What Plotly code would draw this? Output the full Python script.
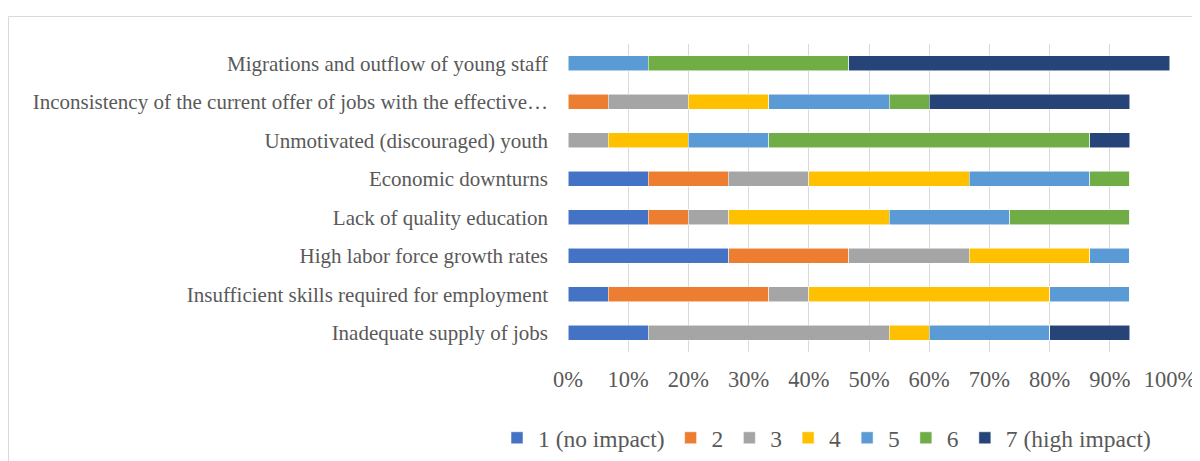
import plotly.graph_objects as go

categories = [
    "Inadequate supply of jobs",
    "Insufficient skills required for employment",
    "High labor force growth rates",
    "Lack of quality education",
    "Economic downturns",
    "Unmotivated (discouraged) youth",
    "Inconsistency of the current offer of jobs with the effective…",
    "Migrations and outflow of young staff",
]

series_names = ["1 (no impact)", "2", "3", "4", "5", "6", "7 (high impact)"]
colors = ["#4472C4", "#ED7D31", "#A5A5A5", "#FFC000", "#5B9BD5", "#70AD47", "#264478"]

# shares (%) per category, same order as categories
s1 = [13.33, 6.67, 26.67, 13.33, 13.33, 0.0, 0.0, 0.0]
s2 = [0.0, 26.67, 20.0, 6.67, 13.33, 0.0, 6.67, 0.0]
s3 = [40.0, 6.67, 20.0, 6.67, 13.33, 6.67, 13.33, 0.0]
s4 = [6.67, 40.0, 20.0, 26.67, 26.67, 13.33, 13.33, 0.0]
s5 = [20.0, 13.33, 6.67, 20.0, 20.0, 13.33, 20.0, 13.33]
s6 = [0.0, 0.0, 0.0, 20.0, 6.67, 53.33, 6.67, 33.33]
s7 = [13.33, 0.0, 0.0, 0.0, 0.0, 6.67, 33.33, 53.33]
series_values = [s1, s2, s3, s4, s5, s6, s7]

tick_vals = [0, 10, 20, 30, 40, 50, 60, 70, 80, 90, 100]
tick_text = ["0%", "10%", "20%", "30%", "40%", "50%", "60%", "70%", "80%", "90%", "100%"]

FONT = "Liberation Serif"
TXT = "#595959"

fig = go.Figure()
for name, vals, col in zip(series_names, series_values, colors):
    fig.add_trace(go.Bar(
        y=categories, x=vals, name=name, orientation="h",
        marker=dict(color=col, line=dict(color="rgba(255,255,255,0.7)", width=0.75)),
    ))

# page body has an 8px margin, so the figure is laid out 8px up/left
W, H = 1192, 453
L, T = 560, 36
pw, ph = 602, 308
R = W - L - pw
B = H - T - ph

fig.update_layout(
    barmode="stack",
    bargap=0.61,
    width=W, height=H,
    margin=dict(l=L, r=R, t=T, b=B, pad=0, autoexpand=False),
    paper_bgcolor="white", plot_bgcolor="white",
    font=dict(family=FONT, color=TXT),
    xaxis=dict(
        range=[0, 100], tickvals=tick_vals, ticktext=tick_text,
        showgrid=True, gridcolor="#D9D9D9", gridwidth=1,
        zeroline=False, showline=False, ticks="", automargin=False,
        tickfont=dict(size=22.5, family=FONT, color=TXT),
        ticklabelstandoff=11,
    ),
    yaxis=dict(
        categoryorder="array", categoryarray=categories,
        showgrid=False, zeroline=False, showline=False, ticks="", automargin=False,
        tickfont=dict(size=21, family=FONT, color=TXT),
        ticklabelstandoff=19,
    ),
    legend=dict(
        orientation="h",
        x=(488 - L) / pw, xanchor="left",
        y=(T + ph - 430) / ph, yanchor="middle",
        font=dict(size=23.5, family=FONT, color=TXT), traceorder="normal",
        itemwidth=32, bgcolor="rgba(0,0,0,0)",
    ),
    shapes=[dict(
        type="rect", xref="paper", yref="paper",
        x0=(0.5 - L) / pw, x1=(W + 20 - L) / pw,
        y0=-(H + 20 - T - ph) / ph, y1=(T + ph - 8.5) / ph,
        line=dict(color="#D9D9D9", width=1), fillcolor="rgba(0,0,0,0)", layer="below",
    )],
)

fig.write_html("out.html")
